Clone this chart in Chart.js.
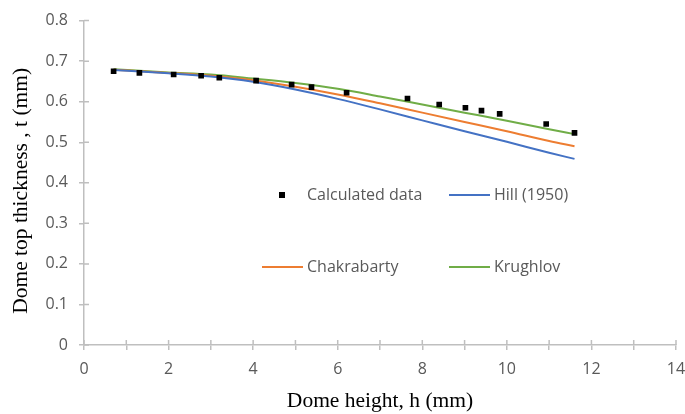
<!DOCTYPE html>
<html>
<head>
<meta charset="utf-8">
<script src="https://cdn.jsdelivr.net/npm/chart.js@4"></script>
<style>
  body { margin: 0; background: #fff; }
  #wrap { width: 685px; height: 414px; }
</style>
</head>
<body>
<div id="wrap"><canvas id="domeChart" width="685" height="414"></canvas></div>
<script>
// ============================================================
// 1. Data
// ============================================================
// measured / calculated points
const calcH = [0.70, 1.31, 2.12, 2.77, 3.20, 4.07, 4.91, 5.38, 6.21, 7.65, 8.40, 9.02, 9.40, 9.83, 10.93, 11.60];
const calcT = [0.675, 0.671, 0.667, 0.664, 0.659, 0.652, 0.642, 0.636, 0.622, 0.608, 0.593, 0.585, 0.578, 0.570, 0.545, 0.523];

// model curves
const modelH    = [0.7, 2, 3, 4, 5, 6, 7, 8, 9, 10, 11, 11.6];
const hillT     = [0.678, 0.670, 0.662, 0.649, 0.630, 0.607, 0.581, 0.554, 0.527, 0.501, 0.474, 0.459];
const chakT     = [0.679, 0.671, 0.664, 0.653, 0.637, 0.618, 0.596, 0.573, 0.550, 0.527, 0.503, 0.490];
const krughT    = [0.680, 0.672, 0.667, 0.657, 0.646, 0.632, 0.613, 0.593, 0.573, 0.553, 0.532, 0.520];

const seriesNames = ['Calculated data', 'Hill (1950)', 'Chakrabarty', 'Krughlov'];

// ============================================================
// 2. Helpers
// ============================================================
const AXIS_COLOR = '#bfbfbf';
const TEXT_COLOR = '#595959';

function toPoints(xs, ys) {
    return xs.map((x, i) => ({ x: x, y: ys[i] }));
}

function lineSet(label, ys, color) {
    return {
        type: 'line',
        label: label,
        data: toPoints(modelH, ys),
        borderColor: color,
        backgroundColor: color,
        borderWidth: 2,
        pointRadius: 0,
        fill: false,
        cubicInterpolationMode: 'monotone'
    };
}

// tick marks that cross the axis line (Excel style)
const crossTicks = {
    id: 'crossTicks',
    afterDraw(chart) {
        const ctx = chart.ctx;
        const xs = chart.scales.x, ys = chart.scales.y;
        ctx.save();
        ctx.strokeStyle = AXIS_COLOR;
        ctx.lineWidth = 1.5;
        ctx.beginPath();
        xs.ticks.forEach(t => {
            const px = xs.getPixelForValue(t.value);
            ctx.moveTo(px, xs.top);
            ctx.lineTo(px, xs.top - 5);
        });
        ys.ticks.forEach(t => {
            const py = ys.getPixelForValue(t.value);
            ctx.moveTo(ys.right, py);
            ctx.lineTo(ys.right + 5, py);
        });
        ctx.stroke();
        ctx.restore();
    }
};

// legend sitting inside the plot, 2 x 2
const LEGEND_SLOTS = [
    { x: 262, y: 195 }, { x: 449, y: 195 },
    { x: 262, y: 267 }, { x: 449, y: 267 }
];
const innerLegend = {
    id: 'innerLegend',
    afterDraw(chart) {
        const ctx = chart.ctx;
        ctx.save();
        ctx.font = '16px "Open Sans"';
        ctx.textBaseline = 'middle';
        chart.data.datasets.forEach((ds, i) => {
            const s = LEGEND_SLOTS[i];
            if (ds.type === 'scatter') {
                ctx.fillStyle = ds.backgroundColor;
                ctx.fillRect(s.x + 20 - 3, s.y - 3, 6, 6);
            } else {
                ctx.strokeStyle = ds.borderColor;
                ctx.lineWidth = 2;
                ctx.beginPath();
                ctx.moveTo(s.x, s.y);
                ctx.lineTo(s.x + 41, s.y);
                ctx.stroke();
            }
            ctx.fillStyle = TEXT_COLOR;
            ctx.fillText(ds.label, s.x + 45, s.y);
        });
        ctx.restore();
    }
};

// ============================================================
// 3. Chart
// ============================================================
const ctx = document.getElementById('domeChart').getContext('2d');

new Chart(ctx, {
    data: {
        datasets: [
            {
                type: 'scatter',
                label: seriesNames[0],
                data: toPoints(calcH, calcT),
                pointStyle: 'rect',
                pointRadius: 4,
                pointBorderWidth: 0,
                backgroundColor: '#000',
                borderColor: '#000'
            },
            lineSet(seriesNames[1], hillT, '#4472c4'),
            lineSet(seriesNames[2], chakT, '#ed7d31'),
            lineSet(seriesNames[3], krughT, '#70ad47')
        ]
    },
    options: {
        responsive: false,
        animation: false,
        layout: { padding: { left: 0, top: 10, right: 9, bottom: 0 } },
        scales: {
            x: {
                type: 'linear',
                min: 0, max: 14,
                border: { color: AXIS_COLOR, width: 1.5 },
                grid: { drawOnChartArea: false, tickLength: 5, color: AXIS_COLOR, lineWidth: 1.5 },
                ticks: {
                    stepSize: 1,
                    padding: 10,
                    color: TEXT_COLOR,
                    font: { family: 'Open Sans', size: 16 },
                    callback: v => (v % 2 === 0 ? String(v) : '')
                },
                title: {
                    display: true,
                    text: 'Dome height, h (mm)',
                    color: '#000',
                    font: { family: 'Liberation Serif', size: 21.5 },
                    padding: { top: 1, bottom: 0 }
                },
                afterFit: s => { s.height = 69; s.paddingRight = 0; s.paddingLeft = 0; }
            },
            y: {
                min: 0, max: 0.8,
                border: { color: AXIS_COLOR, width: 1.5 },
                grid: { drawOnChartArea: false, tickLength: 5, color: AXIS_COLOR, lineWidth: 1.5 },
                ticks: {
                    stepSize: 0.1,
                    padding: 11,
                    color: TEXT_COLOR,
                    font: { family: 'Open Sans', size: 16 },
                    callback: v => String(Math.round(v * 10) / 10)
                },
                title: {
                    display: true,
                    text: 'Dome top thickness , t (mm)   ',
                    color: '#000',
                    font: { family: 'Liberation Serif', size: 21.5 },
                    padding: { top: 8, bottom: 0 }
                },
                afterFit: s => { s.width = 84; }
            }
        },
        plugins: {
            legend: { display: false },
            tooltip: { enabled: false }
        }
    },
    plugins: [crossTicks, innerLegend]
});
</script>
</body>
</html>
